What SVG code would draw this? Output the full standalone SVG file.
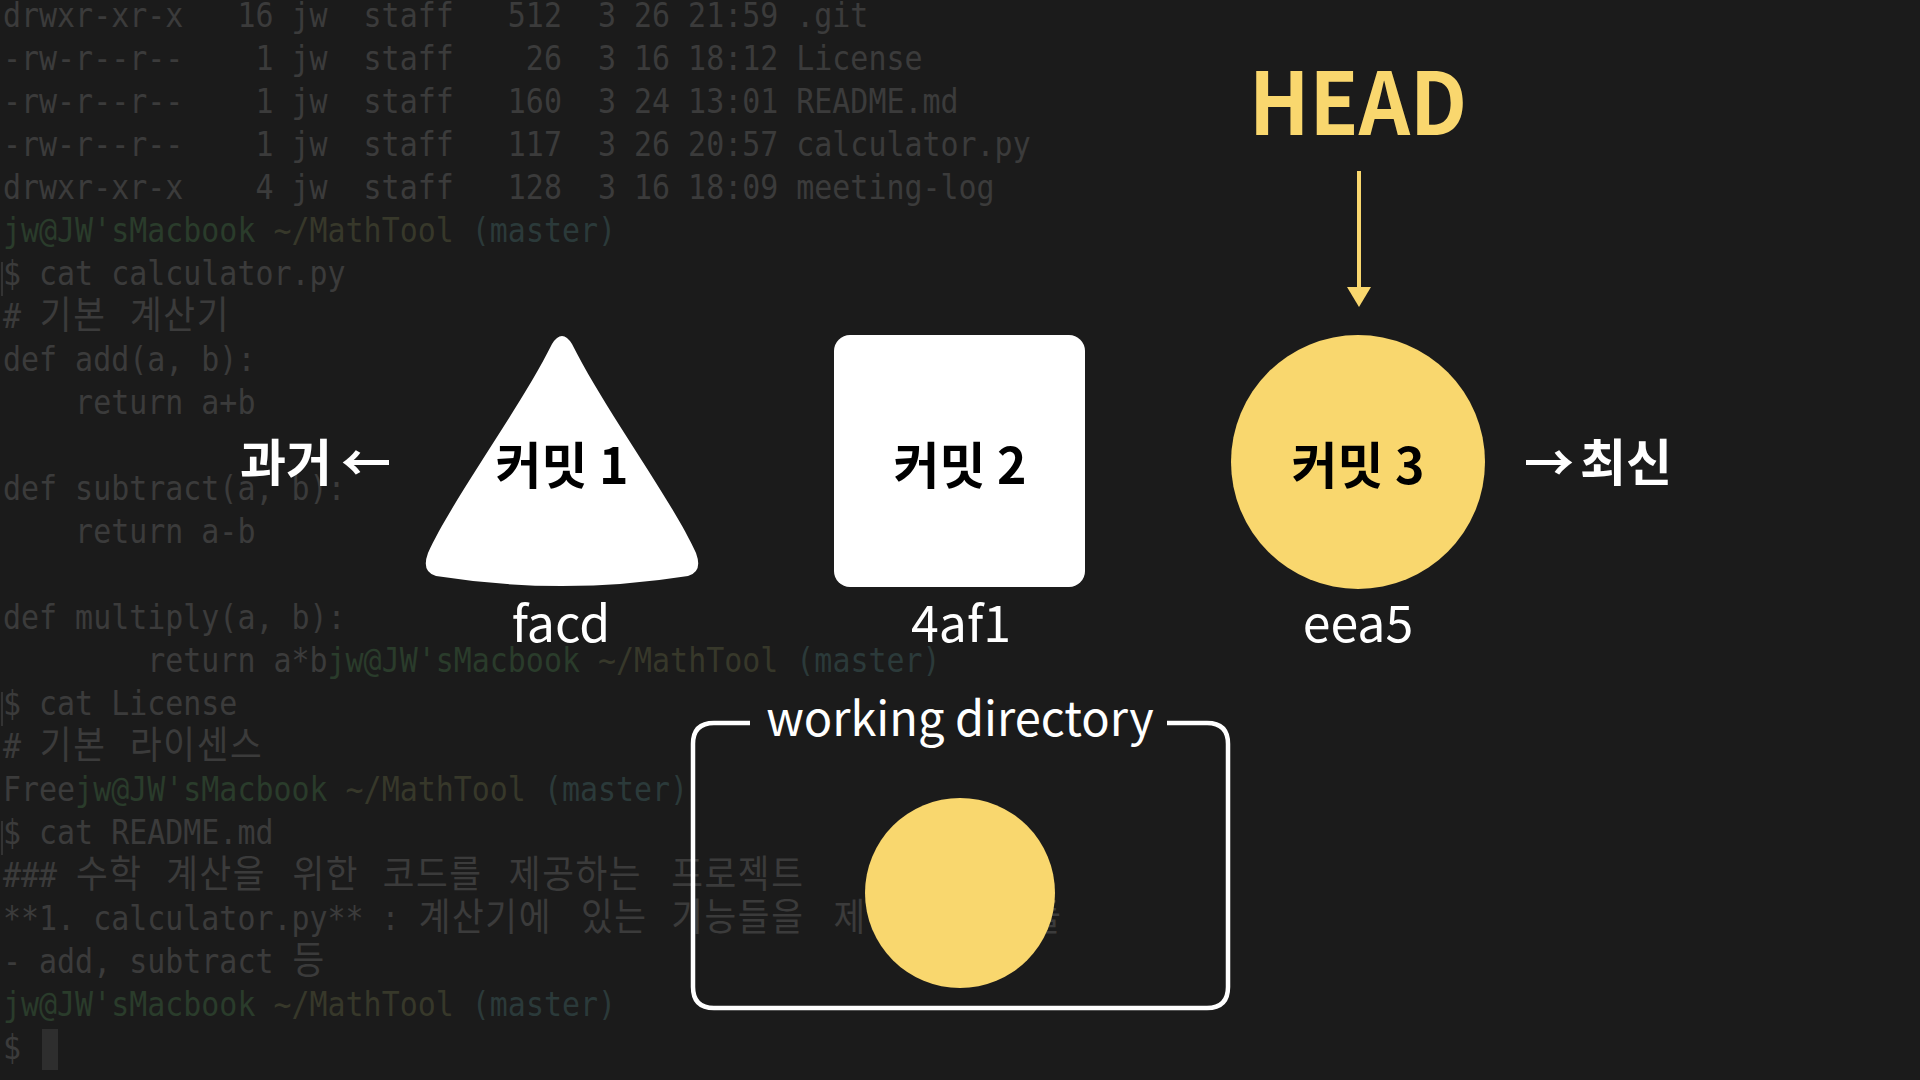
<svg xmlns="http://www.w3.org/2000/svg" width="1920" height="1080" viewBox="0 0 1920 1080">
<style>
.term text{font-family:"DejaVu Sans Mono","Noto Sans CJK KR",monospace;font-size:33px;fill:#3b3b3b;white-space:pre}
.ko{font-size:38px;letter-spacing:1.76px}
.pu{fill:#2a3c2b}
.pp{fill:#37382a}
.pb{fill:#2b3a3a}
.lbl{font-family:"Noto Sans CJK KR","Noto Sans",sans-serif;font-weight:700;font-size:50px;fill:#000;text-anchor:middle}
.hash{font-family:"Noto Sans CJK KR","Noto Sans",sans-serif;font-size:50px;fill:#fff;text-anchor:middle}
.side{font-family:"Noto Sans CJK KR","Noto Sans",sans-serif;font-weight:700;font-size:50px;fill:#fff}
</style>
<defs>
<marker id="ah" viewBox="0 0 20 24" refX="0" refY="12" markerWidth="20" markerHeight="24" markerUnits="userSpaceOnUse" orient="auto">
<path d="M0,0 L20,12 L0,24 z" fill="#f9d76e"/>
</marker>
</defs>
<rect width="1920" height="1080" fill="#1b1b1b"/>
<g id="terminal">
<g class="term" transform="translate(3 0) scale(0.908 1)">
<text x="0" y="27">drwxr-xr-x   16 jw  staff   512  3 26 21:59 .git</text>
<text x="0" y="70">-rw-r--r--    1 jw  staff    26  3 16 18:12 License</text>
<text x="0" y="113">-rw-r--r--    1 jw  staff   160  3 24 13:01 README.md</text>
<text x="0" y="156">-rw-r--r--    1 jw  staff   117  3 26 20:57 calculator.py</text>
<text x="0" y="199">drwxr-xr-x    4 jw  staff   128  3 16 18:09 meeting-log</text>
<text x="0" y="242"><tspan class="pu">jw@JW'sMacbook</tspan> <tspan class="pp">~/MathTool</tspan> <tspan class="pb">(master)</tspan></text>
<text x="0" y="285">$ cat calculator.py</text>
<text y="328"><tspan x="0">#</tspan><tspan class="ko" x="40.6">기본</tspan><tspan class="ko" x="139.9">계산기</tspan></text>
<text x="0" y="371">def add(a, b):</text>
<text x="0" y="414">    return a+b</text>
<text x="0" y="500">def subtract(a, b):</text>
<text x="0" y="543">    return a-b</text>
<text x="0" y="629">def multiply(a, b):</text>
<text x="0" y="672">        return a*b<tspan class="pu">jw@JW'sMacbook</tspan> <tspan class="pp">~/MathTool</tspan> <tspan class="pb">(master)</tspan></text>
<text x="0" y="715">$ cat License</text>
<text y="758"><tspan x="0">#</tspan><tspan class="ko" x="40.6">기본</tspan><tspan class="ko" x="139.9">라이센스</tspan></text>
<text x="0" y="801">Free<tspan class="pu">jw@JW'sMacbook</tspan> <tspan class="pp">~/MathTool</tspan> <tspan class="pb">(master)</tspan></text>
<text x="0" y="844">$ cat README.md</text>
<text y="887"><tspan x="0">###</tspan><tspan class="ko" x="80.3">수학</tspan><tspan class="ko" x="179.7">계산을</tspan><tspan class="ko" x="318.8">위한</tspan><tspan class="ko" x="418.1">코드를</tspan><tspan class="ko" x="557.1">제공하는</tspan><tspan class="ko" x="735.9">프로젝트</tspan></text>
<text y="930"><tspan x="0">**1. calculator.py** :</tspan><tspan class="ko" x="457.8">계산기에</tspan><tspan class="ko" x="636.6">있는</tspan><tspan class="ko" x="735.9">기능들을</tspan><tspan class="ko" x="914.7">제공하는</tspan><tspan class="ko" x="1093.5">모듈</tspan></text>
<text y="973"><tspan x="0">- add, subtract</tspan><tspan class="ko" x="318.8">등</tspan></text>
<text x="0" y="1016"><tspan class="pu">jw@JW'sMacbook</tspan> <tspan class="pp">~/MathTool</tspan> <tspan class="pb">(master)</tspan></text>
<text x="0" y="1059">$</text>
</g>
<rect x="1" y="262" width="2" height="34" fill="#333"/>
<rect x="1" y="692" width="2" height="34" fill="#333"/>
<rect x="1" y="821" width="2" height="34" fill="#333"/>
<rect x="42" y="1029" width="16" height="41" fill="#2e2e2e"/>
</g>
<g id="connectors">
<line x1="1359" y1="171" x2="1359" y2="287" stroke="#f9d76e" stroke-width="4" marker-end="url(#ah)"/>
</g>
<g id="head">
<text x="1358" y="135" font-family="Noto Sans CJK KR, Noto Sans, sans-serif" font-weight="700" font-size="86" fill="#f9d76e" text-anchor="middle" textLength="218" lengthAdjust="spacingAndGlyphs">HEAD</text>
</g>
<g id="past">
<text class="side" x="240" y="481">과거</text>
<text class="side" x="341" y="481">←</text>
</g>
<g id="commit1">
<path d="M552 344 Q562 328 572 344 C605 410 672 500 696 553 Q703 572 688 576 Q562 596 436 576 Q421 572 428 553 C452 500 519 410 552 344 Z" fill="#fff"/>
<text class="lbl" x="562" y="484">커밋 1</text>
<text class="hash" x="561" y="642">facd</text>
</g>
<g id="commit2">
<rect x="834" y="335" width="251" height="252" rx="16" fill="#fff"/>
<text class="lbl" x="960" y="484">커밋 2</text>
<text class="hash" x="961" y="642">4af1</text>
</g>
<g id="commit3">
<circle cx="1358" cy="462" r="127" fill="#f9d76e"/>
<text class="lbl" x="1358" y="484">커밋 3</text>
<text class="hash" x="1358" y="642">eea5</text>
</g>
<g id="latest">
<text class="side" x="1524" y="481">→</text>
<text class="side" x="1580" y="481">최신</text>
</g>
<g id="working-directory">
<path d="M750 723 H714 Q693 723 693 744 V987 Q693 1008 714 1008 H1207 Q1228 1008 1228 987 V744 Q1228 723 1207 723 H1167" fill="none" stroke="#fff" stroke-width="4.5"/>
<text x="960" y="736" font-family="Noto Sans CJK KR, Noto Sans, sans-serif" font-size="47" fill="#fff" text-anchor="middle">working directory</text>
<circle cx="960" cy="893" r="95" fill="#f9d76e"/>
</g>
</svg>
